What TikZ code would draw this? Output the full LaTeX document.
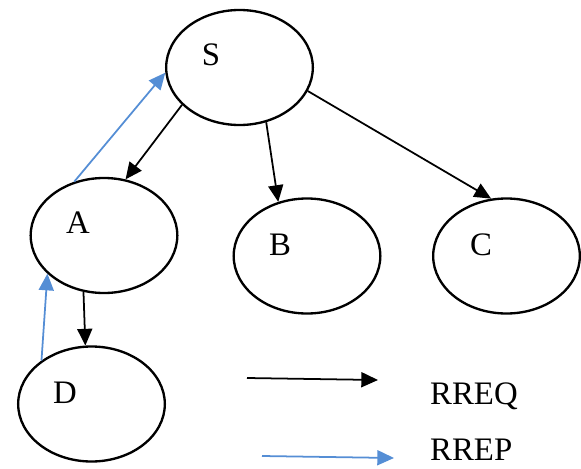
\documentclass[tikz,border=0pt]{standalone}
\usepackage{fontspec}
\setmainfont{Liberation Serif}
\usetikzlibrary{shapes.geometric, arrows.meta}
\definecolor{replyblue}{RGB}{85,142,213}

\begin{document}
\begin{tikzpicture}[x={(0.03cm,0)}, y={(0,-0.03cm)},
    every node/.style={font=\fontsize{28}{31}\selectfont},
    host/.style={draw, ellipse, line width=2pt, minimum width=4.4cm, minimum height=3.45cm, inner sep=0pt},
    tag/.style={anchor=base, inner sep=0pt},
    req/.style={line width=1.5pt, -{Triangle[length=0.5cm,width=0.45cm]}},
    rep/.style={req, color=replyblue}]
            \useasboundingbox (0,0) rectangle (581,468);

            \node (n_s) at (239.5,67.5) [host] {};
            \node (n_a) at (104,235.5) [host] {};
            \node (n_b) at (307,256) [host] {};
            \node (n_c) at (506.5,256) [host] {};
            \node (n_d) at (91.5,404) [host] {};

            \node (t_s) at (211,65) [tag] {S};
            \node (t_a) at (78,233) [tag] {A};
            \node (t_b) at (280,255) [tag] {B};
            \node (t_c) at (481,255) [tag] {C};
            \node (t_d) at (65,403) [tag] {D};

            \draw [req] (n_s.213) -- (n_a.69);
            \draw [req] (n_s.296) -- (n_b.118);
            \draw [req] (n_s.341) -- (n_c.105);
            \draw [req] (n_a.250) -- (n_d.96);

            \draw [rep] (n_a.119) -- (n_s.184);
            \draw [rep] (n_d.139) -- (n_a.214);

            % legend
            \coordinate (req_from) at (247,378);
            \coordinate (req_to) at (378,380);
            \coordinate (rep_from) at (262,456);
            \coordinate (rep_to) at (394,458);
            \draw [req] (req_from) -- (req_to);
            \draw [rep] (rep_from) -- (rep_to);
            \node (l_req) at (430,404) [tag, anchor=base west] {RREQ};
            \node (l_rep) at (430,460) [tag, anchor=base west] {RREP};
\end{tikzpicture}
\end{document}
